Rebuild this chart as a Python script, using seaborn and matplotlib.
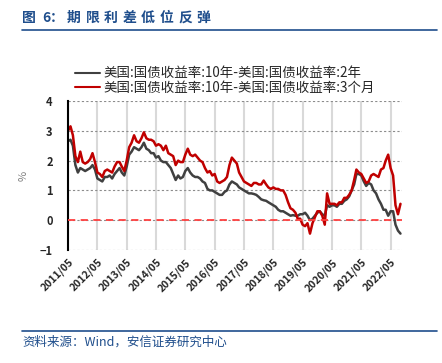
import numpy as np
import pandas as pd
import seaborn as sns
import matplotlib.pyplot as plt
from matplotlib.lines import Line2D

# --- Data (monthly readings, 2011/05 - 2022/09) ---
start_month = '2011-05-01'
spread_10y_2y = [
    2.65, 2.70, 2.50, 1.85, 1.60, 1.75, 1.70, 1.65,
    1.70, 1.75, 1.85, 1.70, 1.40, 1.35, 1.30, 1.45, 1.45, 1.50, 1.40, 1.55,
    1.65, 1.75, 1.60, 1.50, 1.80, 2.20, 2.30, 2.45, 2.40, 2.35, 2.45, 2.60,
    2.40, 2.35, 2.25, 2.25, 2.10, 2.15, 2.00, 1.95, 1.95, 1.85, 1.75, 1.55,
    1.35, 1.50, 1.40, 1.45, 1.65, 1.75, 1.60, 1.50, 1.45, 1.45, 1.40, 1.30,
    1.25, 1.05, 1.00, 1.00, 0.95, 0.90, 0.85, 0.85, 0.95, 1.00, 1.20, 1.30,
    1.25, 1.20, 1.10, 1.05, 1.00, 0.95, 0.90, 0.90, 0.88, 0.85, 0.78, 0.70,
    0.67, 0.65, 0.60, 0.55, 0.50, 0.45, 0.35, 0.30, 0.30, 0.25, 0.20, 0.15,
    0.17, 0.15, 0.15, 0.20, 0.20, 0.25, 0.15, 0.00, 0.05, 0.15, 0.25, 0.30,
    0.20, 0.15, 0.50, 0.45, 0.50, 0.50, 0.45, 0.55, 0.55, 0.65, 0.70, 0.80,
    1.00, 1.20, 1.55, 1.55, 1.50, 1.30, 1.15, 1.25, 1.20, 1.00, 0.90, 0.70,
    0.55, 0.35, 0.35, 0.15, 0.30, 0.30, -0.15, -0.35, -0.45,
]
spread_10y_3m = [
    3.00, 3.15, 2.85, 2.15, 1.95, 2.30, 1.95, 1.90,
    1.95, 2.05, 2.25, 1.95, 1.60, 1.55, 1.45, 1.65, 1.70, 1.65, 1.60, 1.80,
    1.95, 1.95, 1.80, 1.65, 2.00, 2.45, 2.60, 2.85, 2.65, 2.60, 2.75, 2.95,
    2.75, 2.70, 2.70, 2.65, 2.50, 2.55, 2.50, 2.35, 2.50, 2.25, 2.20, 2.15,
    1.85, 2.00, 1.95, 1.95, 2.20, 2.40, 2.20, 2.15, 2.20, 2.10, 2.00, 1.95,
    1.75, 1.60, 1.65, 1.50, 1.55, 1.30, 1.25, 1.30, 1.35, 1.45, 1.85, 2.10,
    2.00, 1.90, 1.60, 1.45, 1.30, 1.25, 1.20, 1.15, 1.25, 1.25, 1.20, 1.20,
    1.33, 1.20, 1.10, 1.05, 1.10, 1.05, 1.05, 1.00, 1.00, 0.85, 0.60, 0.40,
    0.35, 0.25, 0.05, 0.05, -0.15, -0.20, -0.10, -0.45, -0.10, 0.10, 0.30, 0.30,
    0.15, -0.15, 0.90, 0.55, 0.55, 0.55, 0.50, 0.60, 0.60, 0.75, 0.75, 0.85,
    1.00, 1.35, 1.70, 1.60, 1.55, 1.40, 1.25, 1.30, 1.50, 1.55, 1.50, 1.45,
    1.70, 1.75, 2.00, 2.20, 1.75, 1.50, 0.50, 0.20, 0.55,
]
label_2y = '美国:国债收益率:10年-美国:国债收益率:2年'
label_3m = '美国:国债收益率:10年-美国:国债收益率:3个月'
tick_years = list(range(2011, 2023))
title_chars = ['图', '6', '：', '期', '限', '利', '差', '低', '位', '反', '弹']

dates = pd.date_range(start_month, periods=len(spread_10y_2y), freq='MS')
df = pd.DataFrame({'date': dates, label_2y: spread_10y_2y, label_3m: spread_10y_3m})
long_df = df.melt(id_vars='date', var_name='series', value_name='value')

# --- Style ---
sns.set_style('white')
plt.rcParams['font.family'] = ['Noto Sans CJK SC', 'DejaVu Sans']
plt.rcParams['axes.unicode_minus'] = False

blue = '#1f4e8c'
W, H = 442, 363
fig = plt.figure(figsize=(W / 100, H / 100), dpi=100)
ax = fig.add_axes([68 / W, 1 - 250 / H, 334 / W, 149 / H])

# vertical year grid + dotted horizontal grid
for y in tick_years:
    ax.axvline(pd.Timestamp(f'{y}-05-01'), color='#d9d9d9', lw=1.5, zorder=0)
for v in range(-1, 5):
    ax.axhline(v, color='#8c8c8c', lw=0.8, ls=(0, (2, 2)), zorder=0)

sns.lineplot(data=long_df, x='date', y='value', hue='series',
             palette={label_2y: '#404040', label_3m: '#c00000'},
             linewidth=1.8, ax=ax, legend=False)
ax.axhline(0, color='#ff4040', lw=1.3, ls=(0, (4, 3)), zorder=3)

ax.set_xlim(pd.Timestamp('2011-05-01'), pd.Timestamp('2022-09-20'))
ax.set_ylim(-1, 4)
ax.set_yticks(range(-1, 5))
ax.set_yticklabels(['−1', '0', '1', '2', '3', '4'], fontsize=8, fontweight='bold')
ax.set_xticks([pd.Timestamp(f'{y}-05-01') for y in tick_years])
ax.set_xticklabels([f'{y}/05' for y in tick_years], rotation=45, ha='right',
                   rotation_mode='anchor', fontsize=7.5, fontweight='bold')
ax.tick_params(axis='y', length=0, pad=11)
ax.tick_params(axis='x', length=0, pad=5)
ax.set_xlabel('')
ax.set_ylabel('%', color='#808080', fontsize=8, labelpad=8)
for s in ['top', 'right', 'bottom']:
    ax.spines[s].set_visible(False)
ax.spines['left'].set_color('black')
ax.spines['left'].set_linewidth(1.5)

# legend
handles = [Line2D([], [], color='#404040', lw=1.5), Line2D([], [], color='#c00000', lw=1.5)]
fig.legend(handles, [label_2y, label_3m], loc='center', bbox_to_anchor=(225 / W, 1 - 80.5 / H),
           frameon=False, fontsize=9.7, handlelength=1.8, handletextpad=0.25,
           labelspacing=0.02, borderpad=0)

# title (letter-spaced) and source
title_x = [22, 42, 50, 67, 85.5, 104, 122.5, 141, 159.5, 178, 196.5]
for ch, x in zip(title_chars, title_x):
    fig.text(x / W, 1 - 18 / H, ch, color=blue, fontsize=10, fontweight='bold',
             va='center', ha='left')
fig.add_artist(Line2D([22 / W, 437 / W], [1 - 29.5 / H] * 2, color=blue, lw=1.2))
fig.add_artist(Line2D([22 / W, 437 / W], [1 - 331 / H] * 2, color=blue, lw=1.2))
fig.text(22 / W, 1 - 342 / H, '资料来源：Wind，安信证券研究中心', color=blue, fontsize=9,
         style='italic', va='center', ha='left')

fig.savefig('out.png', dpi=100)
